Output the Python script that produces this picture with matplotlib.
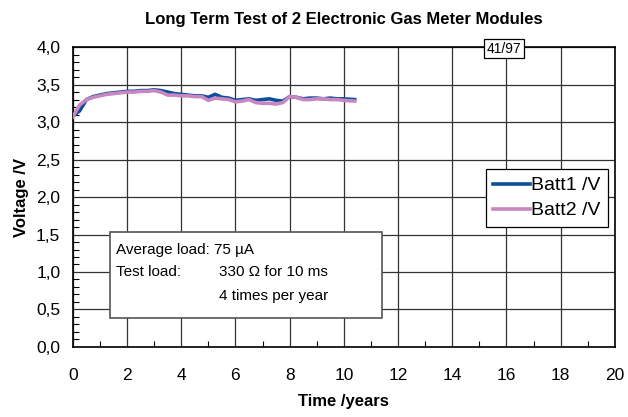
import matplotlib
matplotlib.use("Agg")
import matplotlib.pyplot as plt
from matplotlib.ticker import MultipleLocator, FuncFormatter
from matplotlib.patches import Rectangle

plt.rcParams['font.family'] = ['Liberation Sans', 'DejaVu Sans']

# Messwerte (aus dem Bild geschaetzt)
jahre = [0, 0.25, 0.5, 0.75, 1.0, 1.25, 1.5, 1.75, 2.0, 2.25, 2.5, 2.75, 3.0, 3.25,
         3.5, 3.75, 4.0, 4.25, 4.5, 4.75, 5.0, 5.25, 5.5, 5.75, 6.0, 6.25, 6.5,
         6.75, 7.0, 7.25, 7.5, 7.75, 8.0, 8.25, 8.5, 8.75, 9.0, 9.25, 9.5, 9.75,
         10.0, 10.4]
batt1 = [3.08, 3.15, 3.30, 3.34, 3.36, 3.38, 3.39, 3.40, 3.41, 3.41, 3.42, 3.42,
         3.43, 3.42, 3.40, 3.38, 3.37, 3.36, 3.35, 3.35, 3.33, 3.37, 3.33, 3.32,
         3.29, 3.30, 3.31, 3.29, 3.30, 3.31, 3.29, 3.28, 3.34, 3.33, 3.31, 3.32,
         3.32, 3.31, 3.32, 3.31, 3.31, 3.30]
batt2 = [3.07, 3.23, 3.30, 3.33, 3.35, 3.37, 3.38, 3.39, 3.40, 3.40, 3.41, 3.41,
         3.42, 3.40, 3.36, 3.36, 3.35, 3.35, 3.34, 3.34, 3.29, 3.32, 3.31, 3.30,
         3.27, 3.28, 3.30, 3.26, 3.25, 3.25, 3.24, 3.26, 3.34, 3.33, 3.30, 3.30,
         3.31, 3.31, 3.30, 3.30, 3.29, 3.28]

fig = plt.figure(figsize=(6.28, 4.17), dpi=100)
ax = fig.add_axes([0.116, 0.168, 0.863, 0.719])

ax.plot(jahre, batt1, color='#0b4f9c', lw=2.6, label='Batt1 /V', zorder=3)
ax.plot(jahre, batt2, color='#c987c2', lw=2.6, label='Batt2 /V', zorder=4)

ax.set_xlim(0, 20)
ax.set_ylim(0, 4)
ax.xaxis.set_major_locator(MultipleLocator(2))
ax.xaxis.set_minor_locator(MultipleLocator(1))
ax.yaxis.set_major_locator(MultipleLocator(0.5))
ax.yaxis.set_minor_locator(MultipleLocator(0.1))
ax.yaxis.set_major_formatter(FuncFormatter(lambda v, p: f"{v:.1f}".replace('.', ',')))

ax.grid(True, which='major', color='#333333', lw=0.9)
ax.tick_params(which='both', direction='in', top=False, right=False, labelsize=12.5)
ax.tick_params(axis='x', which='major', pad=15, length=0)
ax.tick_params(axis='y', which='major', pad=9, length=0)
ax.tick_params(which='minor', length=4, width=0.8)
for s in ax.spines.values():
    s.set_linewidth(1.2)
    s.set_color('black')

ax.set_title('Long Term Test of 2 Electronic Gas Meter Modules',
             fontsize=12, fontweight='bold', pad=17)
ax.set_xlabel('Time /years', fontsize=12, fontweight='bold', labelpad=8)
ax.set_ylabel('Voltage /V', fontsize=12, fontweight='bold', labelpad=5)

leg = ax.legend(loc='upper left', bbox_to_anchor=(0.762, 0.592), fontsize=14,
                frameon=True, fancybox=False, edgecolor='black', framealpha=1,
                handlelength=1.9, handletextpad=0.05, borderpad=0.38,
                labelspacing=0.38, borderaxespad=0)
leg.get_frame().set_linewidth(0.9)

# Kasten mit Lastangaben
ax.add_patch(Rectangle((1.37, 0.39), 10.03, 1.14, facecolor='white',
                       edgecolor='#555555', lw=1.2, zorder=5))
ax.text(1.6, 1.30, 'Average load: 75 µA', fontsize=11, va='center', zorder=6)
ax.text(1.6, 1.00, 'Test load:', fontsize=11, va='center', zorder=6)
ax.text(5.4, 1.00, '330 Ω for 10 ms', fontsize=11, va='center', zorder=6)
ax.text(5.4, 0.68, '4 times per year', fontsize=11, va='center', zorder=6)

ax.text(15.9, 3.98, '41/97', fontsize=10, ha='center', va='center', zorder=6,
        clip_on=False,
        bbox=dict(boxstyle='square,pad=0.2', facecolor='white',
                  edgecolor='black', lw=0.9))

fig.savefig('out.png', dpi=100)
